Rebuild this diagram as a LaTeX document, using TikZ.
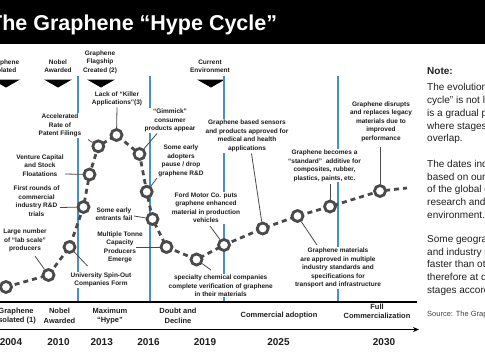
\documentclass[tikz,border=0pt]{standalone}
\usepackage{fontspec}
\setmainfont{Liberation Sans}
\usetikzlibrary{arrows.meta}
\definecolor{ringgray}{HTML}{4A4A4A}
\definecolor{blueline}{HTML}{4A90C8}
\definecolor{txt}{HTML}{1E1E1E}
\begin{document}
\begin{tikzpicture}[x=1pt,y=-1pt,
  lbl/.style={font=\fontsize{6.5}{8.5}\selectfont\bfseries, align=center, fill=white, inner sep=0.8pt, text=txt},
  toplbl/.style={font=\fontsize{6.5}{8.5}\selectfont\bfseries, align=center, inner sep=0pt, text=txt},
  stage/.style={font=\fontsize{7.5}{9.5}\selectfont\bfseries, align=center, inner sep=0pt, text=txt},
  year/.style={font=\fontsize{10}{12}\selectfont\bfseries, inner sep=0pt, text=txt},
  ring/.style={circle, draw=ringgray, line width=2.8pt, fill=white, minimum size=11pt, inner sep=0pt},
  leader/.style={draw=ringgray, line width=0.8pt},
  vline/.style={draw=blueline, line width=1.1pt},
  dashpath/.style={draw=ringgray, line width=2.8pt, dash pattern=on 5pt off 4pt},
  notetxt/.style={font=\fontsize{10}{12.7}\selectfont, align=left, anchor=north west, inner sep=0pt, text=txt}
]
\useasboundingbox (0,0) rectangle (485,360);
\clip (0,0) rectangle (485,360);

% title bar
\fill[black] (0,0) rectangle (485,44);
\node[anchor=base west, text=white, font=\fontsize{21.5}{24}\selectfont\bfseries, inner sep=0pt] (title) at (-11,30) {The Graphene “Hype Cycle”};

% top milestone labels and triangles
\node[toplbl] (tisol) at (4,66.3) {Graphene\\Isolated};
\node[toplbl] (tnobel) at (58,66.3) {Nobel\\Awarded};
\node[toplbl] (tflag) at (100,62) {Graphene\\Flagship\\Created (2)};
\node[toplbl] (tcurr) at (210,66.3) {Current\\Environment};
\foreach \cx in {6,58,101,211} {
  \fill[black] (\cx-14,79.5) -- (\cx+14,79.5) -- (\cx,87.5) -- cycle;
}

% vertical blue lines
\foreach \vx/\nm in {78/va,150/vb,224/vc,338/vd} {
  \coordinate (\nm t) at (\vx,76);
  \coordinate (\nm b) at (\vx,302);
  \draw[vline] (\nm t) -- (\nm b);
}

% axis lines
\coordinate (ax1a) at (0,302);
\coordinate (ax1b) at (417,302);
\coordinate (ax2a) at (0,329.5);
\coordinate (ax2b) at (419,329.5);
\draw[line width=2pt] (ax1a) -- (ax1b);
\draw[line width=1.3pt, -{Stealth[length=6pt,width=5pt]}] (ax2a) -- (ax2b);

% hype curve points
\coordinate (p1) at (6,287);
\coordinate (p2) at (48.5,275);
\coordinate (p3) at (69.5,247);
\coordinate (p4) at (83.5,207);
\coordinate (p5) at (89.5,174.5);
\coordinate (p6) at (98.3,146.3);
\coordinate (p7) at (116.5,135);
\coordinate (p8) at (139.5,154);
\coordinate (p9) at (146.7,191.7);
\coordinate (p10) at (152.5,219);
\coordinate (p11) at (166.5,247);
\coordinate (p12) at (196.5,259.5);
\coordinate (p13) at (224,245);
\coordinate (p14) at (262.7,228.5);
\coordinate (p15) at (297.5,216);
\coordinate (p16) at (330,206.5);
\coordinate (p17) at (380,191);
\coordinate (pend) at (407,188);
\draw[dashpath] (p1) -- (p2) -- (p3) -- (p4) -- (p5) -- (p6) -- (p7) -- (p8) -- (p9) -- (p10) -- (p11) -- (p12) -- (p13) -- (p14) -- (p15) -- (p16) -- (p17) -- (pend);
\foreach \i in {1,...,17} { \node[ring] (c\i) at (p\i) {}; }

% labels
\node[lbl] (lack) at (117,99) {Lack of “Killer\\Applications”(3)};
\node[lbl] (accel) at (60,125.7) {Accelerated\\Rate of\\Patent Filings};
\node[lbl] (venture) at (40,165.3) {Venture Capital\\and Stock\\Floatations};
\node[lbl] (first) at (36.5,201.3) {First rounds of\\commercial\\industry R\&D\\trials};
\node[lbl] (large) at (25,240.8) {Large number\\of “lab scale”\\producers};
\node[lbl] (univ) at (101,279.8) {University Spin-Out\\Companies Form};
\node[lbl] (gimmick) at (170,120.5) {“Gimmick”\\consumer\\products appear};
\node[lbl] (adopt) at (181,160.8) {Some early\\adopters\\pause / drop\\graphene R\&D};
\node[lbl] (entr) at (114,214.2) {Some early\\entrants fail};
\node[lbl] (tonne) at (120,247.5) {Multiple Tonne\\Capacity\\Producers\\Emerge};
\node[lbl] (ford) at (206,207.9) {Ford Motor Co. puts\\graphene enhanced\\material in production\\vehicles};
\node[lbl] (spec) at (220.7,285.7) {specialty chemical companies\\complete verification of graphene\\in their materials};
\node[lbl] (sens) at (247,136) {Graphene based sensors\\and products approved for\\medical and health\\applications};
\node[lbl] (stand) at (324.5,165.8) {Graphene becomes a\\“standard”\ \ additive for\\composites, rubber,\\plastics, paints, etc.};
\node[lbl] (disr) at (381,121.8) {Graphene disrupts\\and replaces legacy\\materials due to\\improved\\performance};
\node[lbl] (mats) at (338,268.3) {Graphene materials\\are approved in multiple\\industry standards and\\specifications for\\transport and infrastructure};

% leaders
\coordinate (laccel) at (88,139.5);
\coordinate (lvent) at (65,174);
\coordinate (lfirst) at (60,207.5);
\coordinate (llarge) at (35,256);
\coordinate (luniv) at (87.5,266);
\coordinate (lgimm) at (157,133.5);
\coordinate (ladopt) at (157,178);
\coordinate (lentr) at (134,216);
\coordinate (ltonne) at (136,247);
\coordinate (lford) at (210,226);
\coordinate (lspec) at (211,270);
\coordinate (lsens) at (251.5,153.5);
\coordinate (lstand) at (330,184);
\coordinate (ldisr) at (380,147);
\coordinate (lmats) at (317,245);
\draw[leader] (lack.south) -- (c7);
\draw[leader] (laccel) -- (c6);
\draw[leader] (lvent) -- (c5);
\draw[leader] (lfirst) -- (c4);
\draw[leader] (llarge) -- (c2);
\draw[leader] (c3) -- (luniv);
\draw[leader] (lgimm) -- (c8);
\draw[leader] (ladopt) -- (c9);
\draw[leader] (lentr) -- (c10);
\draw[leader] (ltonne) -- (c11);
\draw[leader] (lford) -- (c13);
\draw[leader] (c12) -- (lspec);
\draw[leader] (lsens) -- (c14);
\draw[leader] (lstand) -- (c16);
\draw[leader] (ldisr) -- (c17);
\draw[leader] (c15) -- (lmats);

% stages
\node[stage] (s1) at (16,316) {Graphene\\Isolated (1)};
\node[stage] (s2) at (59.5,316) {Nobel\\Awarded};
\node[stage] (s3) at (110,316) {Maximum\\“Hype”};
\node[stage] (s4) at (178,316) {Doubt and\\Decline};
\node[stage] (s5) at (279,316) {Commercial adoption};
\node[stage] (s6) at (377,311.5) {Full\\Commercialization};

% years
\node[year] (y1) at (11,342) {2004};
\node[year] (y2) at (58.5,342) {2010};
\node[year] (y3) at (101.7,342) {2013};
\node[year] (y4) at (148.5,342) {2016};
\node[year] (y5) at (205,342) {2019};
\node[year] (y6) at (278.5,342) {2025};
\node[year] (y7) at (384,342) {2030};

% note panel
\node[anchor=base west, inner sep=0pt, font=\fontsize{10}{12}\selectfont\bfseries, text=txt] (note) at (427,74) {Note:};
\node[notetxt] (n1) at (427,83.5) {The evolution of the\\cycle” is not linear\\is a gradual process\\where stages often\\overlap.};
\node[notetxt] (n2) at (427,160) {The dates indicated\\based on our analysis\\of the global graphene\\research and\\environment.};
\node[notetxt] (n3) at (427,235) {Some geographies\\and industry sectors\\faster than others\\therefore at different\\stages according};
\node[anchor=base west, inner sep=0pt, font=\fontsize{7.5}{9}\selectfont, text=black!75] (src) at (427,316) {Source: The Graphene Council};
\end{tikzpicture}
\end{document}
